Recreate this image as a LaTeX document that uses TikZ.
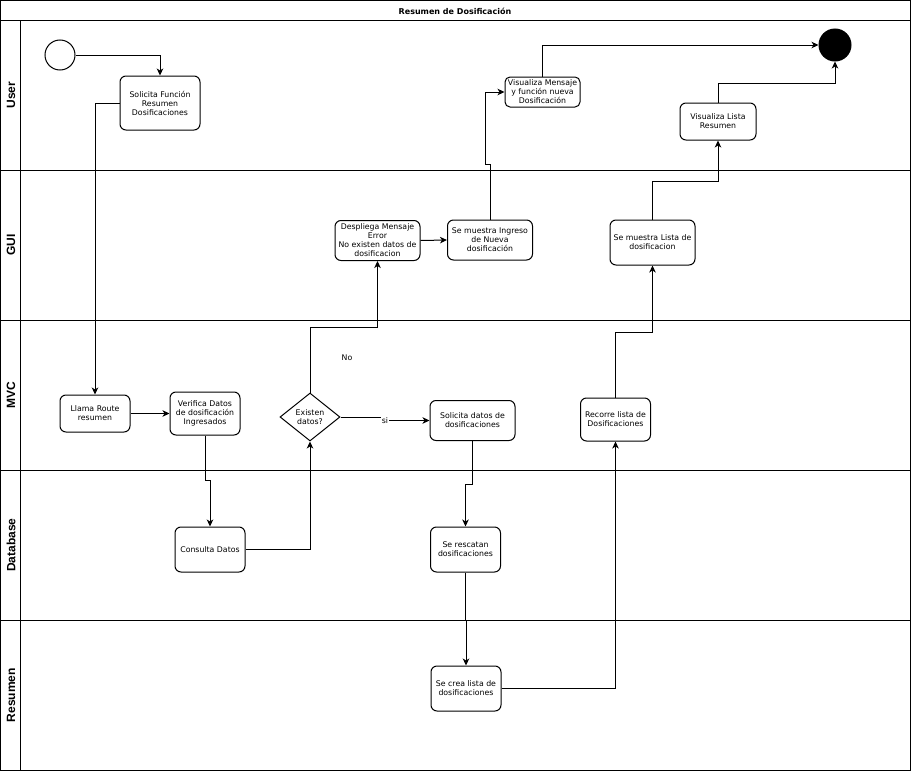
\documentclass[tikz,border=0pt]{standalone}
\usepackage{fontspec}
\setmainfont{DejaVu Sans}
\newfontfamily\lanefont{Liberation Sans}
\usetikzlibrary{arrows.meta,shapes.geometric}
\begin{document}
\begin{tikzpicture}[x=1pt,y=-1pt,
  line width=1pt,
  act/.style={draw,rounded corners=6pt,align=center,inner sep=1pt,
    font=\fontsize{7.8}{9}\selectfont},
  flow/.style={-{Stealth[length=7pt,width=6.5pt,inset=2pt]}},
  lanetitle/.style={rotate=90,font=\lanefont\bfseries\fontsize{12}{14}\selectfont},
  lbl/.style={font=\fontsize{7.8}{9}\selectfont,inner sep=1pt}]
\useasboundingbox (0,0) rectangle (911,771);

% pool frame, title band and lanes
\draw (0.5,0.5) rectangle (910,770);
\foreach \y in {20,170,320,470,620} \draw (0.5,\y) -- (910,\y);
\draw (20,20) -- (20,770);
\node[font=\bfseries\fontsize{8}{10}\selectfont] (title) at (455,11) {Resumen de Dosificación};
\node[lanetitle] (lUser) at (11,95) {User};
\node[lanetitle] (lGUI) at (11,245) {GUI};
\node[lanetitle] (lMVC) at (11,395) {MVC};
\node[lanetitle] (lDb) at (11,545) {Database};
\node[lanetitle] (lRes) at (11,695) {Resumen};

% start and end events
\node[draw,circle,minimum size=30pt,inner sep=0pt] (start) at (60,55) {};
\node[draw,circle,fill=black,minimum size=32pt,inner sep=0pt] (finish) at (835,45) {};

% activities
\node[act,minimum width=80pt,minimum height=54pt] (sol) at (160,103)
  {Solicita Función\\Resumen\\Dosificaciones};
\node[act,minimum width=70pt,minimum height=37pt] (llama) at (95,413.5)
  {Llama Route\\resumen};
\node[act,minimum width=70pt,minimum height=43pt] (verif) at (205,413.5)
  {Verifica Datos\\de dosificación\\Ingresados};
\node[draw,diamond,inner sep=0pt,minimum width=60pt,minimum height=48pt,
  align=center,font=\fontsize{7.8}{9}\selectfont] (dia) at (310,417)
  {Existen\\datos?};
\node[act,minimum width=70pt,minimum height=45pt] (consulta) at (210,549.5)
  {Consulta Datos};
\node[act,minimum width=85pt,minimum height=40pt] (desp) at (377.5,240.5)
  {Despliega Mensaje\\Error\\No existen datos de\\dosificacion};
\node[act,minimum width=85pt,minimum height=40pt] (ingreso) at (490,240)
  {Se muestra Ingreso\\de Nueva\\dosificación};
\node[act,minimum width=75pt,minimum height=30pt,rounded corners=5pt] (vmsg) at (542.5,92)
  {Visualiza Mensaje\\y función nueva\\Dosificación};
\node[act,minimum width=76pt,minimum height=37pt] (vlista) at (718,121.5)
  {Visualiza Lista\\Resumen};
\node[act,minimum width=85pt,minimum height=45pt] (slista) at (652.5,242.5)
  {Se muestra Lista de\\dosificacion};
\node[act,minimum width=70pt,minimum height=43pt] (recorre) at (615.5,419.5)
  {Recorre lista de\\Dosificaciones};
\node[act,minimum width=85pt,minimum height=40pt] (soldat) at (472.5,420.5)
  {Solicita datos de\\dosificaciones};
\node[act,minimum width=70pt,minimum height=45pt] (rescatan) at (465.5,549.5)
  {Se rescatan\\dosificaciones};
\node[act,minimum width=70pt,minimum height=45pt] (crea) at (466,688.5)
  {Se crea lista de\\dosificaciones};

% edge labels
\node[lbl] (no) at (347,358) {No};

% connectors
\draw[flow] (start.east) -| (sol.north);
\draw[flow] (sol.west) -| (llama.north);
\draw[flow] (llama.east) -- (verif.west);
\draw[flow] (verif.south) -- (205,480) -| (consulta.north);
\draw[flow] (consulta.east) -| (dia.south);
\draw[flow] (dia.north) -- (310,327) -| (desp.south);
\draw[flow] (desp.east) -- (ingreso.west);
\draw[flow] (ingreso.north) -- (490,164) -- (485,164) |- (vmsg.west);
\draw[flow] (vmsg.north) |- (finish.west);
\draw[flow] (dia.east) -- (385,417) -- (385,420.5) -- (soldat.west);
\node[lbl,fill=white] (si) at (385,420.5) {si};
\draw[flow] (soldat.south) -- (472.5,484) -| (rescatan.north);
\draw[flow] (rescatan.south) -- (465.5,620) -| (crea.north);
\draw[flow] (crea.east) -| (recorre.south);
\draw[flow] (recorre.north) -- (615.5,332) -| (slista.south);
\draw[flow] (slista.north) -- (652.5,181) -| (vlista.south);
\draw[flow] (vlista.north) -- (718,83) -| (finish.south);
\end{tikzpicture}
\end{document}
